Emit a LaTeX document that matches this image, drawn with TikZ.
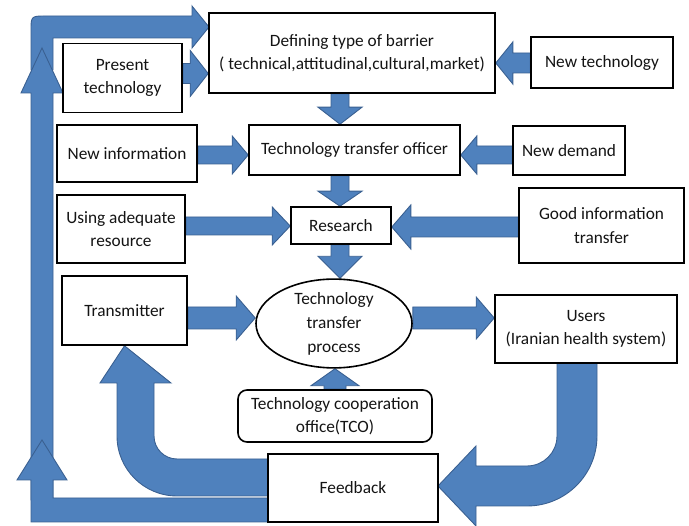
\documentclass[tikz,border=0pt]{standalone}
\usepackage{fontspec}
\setmainfont{Carlito}
\usetikzlibrary{calc,shapes.geometric,backgrounds}
\definecolor{arrblue}{RGB}{79,129,189}
\definecolor{arrdark}{RGB}{58,96,145}
\definecolor{txt}{RGB}{20,20,20}
\tikzset{
  box/.style={draw=black,line width=1.6pt,fill=white,inner sep=0pt,align=center,
    text=txt,font=\fontsize{17.3}{23.5}\selectfont},
  blk/.style={fill=arrblue,draw=arrdark,line width=0.9pt,line join=miter}
}
% horizontal block arrow: from, to, y, shaft half, head half, head length
\newcommand\hblk[6]{\filldraw[blk] let \p1=(#1), \p2=(#2), \p3=(0,#3),
  \n2={\x2-sign(\x2-\x1)*#6pt} in
  (\x1,{\y3+#4pt}) -- ({\n2*1pt},{\y3+#4pt}) -- ({\n2*1pt},{\y3+#5pt}) -- (\x2,\y3)
  -- ({\n2*1pt},{\y3-#5pt}) -- ({\n2*1pt},{\y3-#4pt}) -- (\x1,{\y3-#4pt}) -- cycle;}
% vertical block arrow: from, to, x, shaft half, head half, head length
\newcommand\vblk[6]{\filldraw[blk] let \p1=(#1), \p2=(#2), \p3=(#3,0),
  \n2={\y2-sign(\y2-\y1)*#6pt} in
  ({\x3+#4pt},\y1) -- ({\x3+#4pt},{\n2*1pt}) -- ({\x3+#5pt},{\n2*1pt}) -- (\x3,\y2)
  -- ({\x3-#5pt},{\n2*1pt}) -- ({\x3-#4pt},{\n2*1pt}) -- ({\x3-#4pt},\y1) -- cycle;}
\begin{document}
\begin{tikzpicture}[x=1pt,y=-1pt]
\useasboundingbox (0,0) rectangle (689,526);
% nodes
\node[box,minimum width=286pt,minimum height=80pt] (def) at (352,53)
  {Defining type of barrier\\( technical,attitudinal,cultural,market)};
\node[box,minimum width=119pt,minimum height=69pt] (pres) at (122.5,78) {Present\\technology};
\node[box,minimum width=142pt,minimum height=51pt] (newt) at (602,62.5) {New technology};
\node[box,minimum width=140pt,minimum height=57pt] (ninf) at (127,153.5) {New information};
\node[box,minimum width=211pt,minimum height=50pt] (tto) at (354.5,150) {Technology transfer officer};
\node[box,minimum width=112pt,minimum height=49pt] (ndem) at (569,150.5) {New demand};
\node[box,minimum width=128pt,minimum height=68pt] (using) at (121,229) {Using adequate\\resource};
\node[box,minimum width=100pt,minimum height=37pt] (res) at (341,225.5) {Research};
\node[box,minimum width=165pt,minimum height=75pt] (good) at (601.5,225.5) {Good information\\transfer};
\node[box,minimum width=125pt,minimum height=69pt] (trans) at (124.5,310.5) {Transmitter};
\node[box,ellipse,minimum width=156pt,minimum height=69pt,font=\fontsize{17.3}{24}\selectfont] (ell) at (334,323.5)
  {Technology\\transfer\\process};
\node[box,minimum width=182pt,minimum height=68pt] (users) at (586,329) {Users\\(Iranian health system)};
\node[box,rounded corners=9pt,minimum width=194pt,minimum height=52pt] (tco) at (335,416)
  {Technology cooperation\\office(TCO)};
\node[box,minimum width=170pt,minimum height=68pt] (fb) at (353,488) {Feedback};
\coordinate (fbtip) at (438,486);
\coordinate (deftip) at (209,27);
% arrows
\begin{scope}[on background layer]
\hblk{pres.east}{def.west}{73.5}{10}{23}{18}
\hblk{newt.west}{def.east}{63}{10}{21}{17}
\vblk{def.south}{tto.north}{340}{9}{22}{17}
\hblk{ninf.east}{tto.west}{155}{9}{19}{16}
\hblk{ndem.west}{tto.east}{155}{9}{19}{16}
\vblk{tto.south}{res.north}{340}{9}{22}{15}
\hblk{using.east}{res.west}{226}{9}{19}{18}
\hblk{good.west}{res.east}{227}{10}{22}{19}
\vblk{res.south}{ell.north}{340}{9}{22}{22}
\hblk{trans.east}{ell.west}{318}{11}{22}{19}
\hblk{ell.east}{users.west}{318}{11}{21}{18}
\vblk{tco.north}{ell.south}{335}{11}{24}{17}
% users -> feedback (curved)
\filldraw[blk] (557,363) -- (557,436) .. controls (557,452.6) and (543.6,466) .. (527,466)
  -- (476,466) -- (476,446) -- (fbtip) -- (476,526) -- (476,506) -- (527,506)
  .. controls (565.7,506) and (597,474.7) .. (597,436) -- (597,363) -- cycle;
% feedback -> transmitter (curved)
\filldraw[blk] (268,459) -- (177,459) .. controls (164.3,459) and (154,448.7) .. (154,436)
  -- (154,383) -- (171,383) -- (trans.south) -- (100,383) -- (117,383) -- (117,436)
  .. controls (117,469.1) and (143.9,496) .. (177,496) -- (268,496) -- cycle;
% top bent arrow into defining box
\filldraw[blk] (31,70) -- (31,31) .. controls (31,16) .. (46,16) -- (192,16) -- (192,6)
  -- (deftip) -- (192,48) -- (192,38) -- (53,38) -- (53,70) -- cycle;
% long vertical arrow on the left
\filldraw[blk] (31,500) -- (31,93) -- (21,93) -- (42,48) -- (63,93) -- (53,93) -- (53,500) -- cycle;
% feedback -> bottom loop
\filldraw[blk] (300,498) -- (53,498) -- (53,480) -- (67,480) -- (42,440) -- (17,480) -- (31,480)
  -- (31,522) -- (300,522) -- cycle;
\end{scope}
\end{tikzpicture}
\end{document}
